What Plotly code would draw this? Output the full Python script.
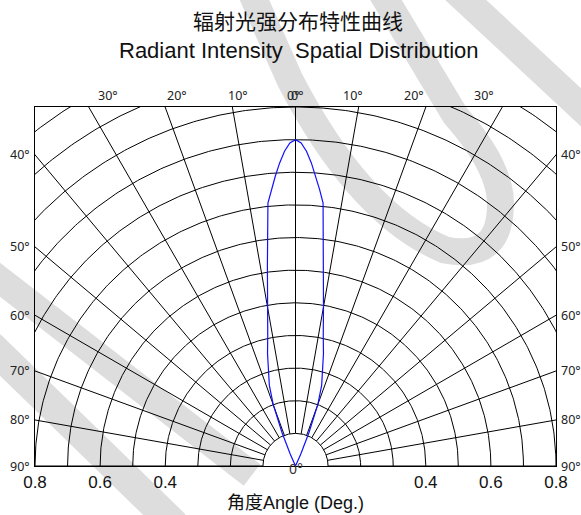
import numpy as np
import plotly.graph_objects as go

# ---------------- data ----------------
title_cn = "辐射光强分布特性曲线"
title_en = "Radiant Intensity\u00a0 Spatial Distribution"
x_title = "角度Angle (Deg.)"

# relative radiant intensity vs. angle (degrees from axis)
angle_deg = [-25, -24, -22, -20, -18, -16, -14, -12, -10, -8, -6, -5, -4, -3, -2, -1,
             0, 1, 2, 3, 4, 5, 6, 8, 10, 12, 14, 16, 18, 20, 22, 24, 25]
intensity = [0.0, 0.04, 0.11, 0.20, 0.26, 0.30, 0.355, 0.41, 0.495, 0.62, 0.81, 0.85, 0.89, 0.93, 0.965, 0.99,
             1.0, 0.99, 0.965, 0.93, 0.89, 0.85, 0.81, 0.62, 0.495, 0.41, 0.355, 0.30, 0.26, 0.20, 0.11, 0.04, 0.0]

grid_radii = [0.1, 0.2, 0.3, 0.4, 0.5, 0.6, 0.7, 0.8, 0.9, 1.0, 1.1, 1.2, 1.3, 1.4]
spoke_deg = [-90, -80, -70, -60, -50, -40, -30, -20, -10, 0, 10, 20, 30, 40, 50, 60, 70, 80, 90]
top_label_deg = [-30, -20, -10, 0, 0, 10, 20, 30]
side_label_deg = [40, 50, 60, 70, 80, 90]
tick_vals = [-0.8, -0.6, -0.4, 0.4, 0.6, 0.8]
tick_text = ["0.8", "0.6", "0.4", "0.4", "0.6", "0.8"]

# ---------------- layout geometry ----------------
W, H = 581, 515
ML, MR, MT, MB = 35, 25, 107, 49
XR = [-0.8, 0.8]
YR = [0.0, 1.1]
HUB = 0.1      # radius where spokes start
SPOKE_END = 1.6

fig = go.Figure()

# polar grid: arcs
t = np.radians(np.linspace(-90, 90, 361))
ax, ay = [], []
for r in grid_radii:
    ax += list(r * np.sin(t)) + [None]
    ay += list(r * np.cos(t)) + [None]
fig.add_trace(go.Scatter(x=ax, y=ay, mode="lines", line=dict(color="black", width=1),
                         hoverinfo="skip", showlegend=False))

# polar grid: spokes
sx, sy = [], []
for d in spoke_deg:
    a = np.radians(d)
    sx += [HUB * np.sin(a), SPOKE_END * np.sin(a), None]
    sy += [HUB * np.cos(a), SPOKE_END * np.cos(a), None]
fig.add_trace(go.Scatter(x=sx, y=sy, mode="lines", line=dict(color="black", width=1),
                         hoverinfo="skip", showlegend=False))

# radiation pattern
th = np.radians(angle_deg)
rr = np.array(intensity)
fig.add_trace(go.Scatter(x=rr * np.sin(th), y=rr * np.cos(th), mode="lines",
                         line=dict(color="#1010ff", width=1.2),
                         hoverinfo="skip", showlegend=False))

ann = []
deg_font = dict(family="Noto Sans, DejaVu Sans, sans-serif", size=12.5, color="#222")
# top angle labels
for i, d in enumerate(top_label_deg):
    shift = 0
    if d == 0:
        shift = -2.5 if i == 3 else 1.5
    ann.append(dict(x=np.tan(np.radians(d)), y=1, xref="x", yref="paper", text=f"{abs(d)}°",
                    showarrow=False, xanchor="center", yanchor="middle", yshift=12, xshift=shift,
                    font=deg_font))
# side angle labels
for d in side_label_deg:
    yv = 0.8 / np.tan(np.radians(d))
    ann.append(dict(x=0, y=yv, xref="paper", yref="y", text=f"{d}°", showarrow=False,
                    xanchor="right", yanchor="middle", xshift=-3, font=deg_font))
    ann.append(dict(x=1, y=yv, xref="paper", yref="y", text=f"{d}°", showarrow=False,
                    xanchor="left", yanchor="middle", xshift=3, font=deg_font))
# centre label
ann.append(dict(x=0, y=0, xref="x", yref="y", text="0°", showarrow=False, xanchor="center",
                yanchor="middle", yshift=-2, font=dict(family="Noto Sans, sans-serif", size=14, color="#333")))
# titles
ann.append(dict(x=0.5, y=1, xref="paper", yref="paper", text=title_cn, showarrow=False,
                xanchor="center", yanchor="middle", yshift=87, xshift=2,
                font=dict(family="Noto Sans CJK SC", size=21, color="#111")))
ann.append(dict(x=0.5, y=1, xref="paper", yref="paper", text=title_en, showarrow=False,
                xanchor="center", yanchor="middle", yshift=57, xshift=3,
                font=dict(family="Liberation Sans, Arial, sans-serif", size=22, color="#111")))
ann.append(dict(x=0.5, y=0, xref="paper", yref="paper", text=x_title, showarrow=False,
                xanchor="center", yanchor="middle", yshift=-37, xshift=0,
                font=dict(family="Liberation Sans, Noto Sans CJK SC, sans-serif", size=18, color="#111")))

# light background watermark (decorative), given in pixel space
def P(X, Y):
    return f"{(X - ML) / (W - ML - MR):.4f},{(H - MB - Y) / (H - MT - MB):.4f}"

wm = "#dddddd"
shapes = [
    dict(type="path", xref="paper", yref="paper", layer="below",
         path=f"M{P(250,-10)} L{P(290,80)} Q{P(360,215)} {P(445,250)} Q{P(505,262)} {P(500,195)} Q{P(495,160)} {P(455,115)} L{P(380,-10)}",
         line=dict(color=wm, width=27)),
    dict(type="path", xref="paper", yref="paper", layer="below",
         path=f"M{P(455,-10)} L{P(600,125)}", line=dict(color=wm, width=28)),
    dict(type="path", xref="paper", yref="paper", layer="below",
         path=f"M{P(-10,272)} L{P(252,475)}", line=dict(color=wm, width=27)),
    dict(type="path", xref="paper", yref="paper", layer="below",
         path=f"M{P(-10,345)} L{P(175,525)}", line=dict(color=wm, width=30)),
]

fig.update_layout(
    width=W, height=H, autosize=False,
    margin=dict(l=ML, r=MR, t=MT, b=MB, pad=0),
    paper_bgcolor="white", plot_bgcolor="rgba(0,0,0,0)",
    annotations=ann, shapes=shapes, showlegend=False,
    xaxis=dict(range=XR, showgrid=False, zeroline=False, showline=True, mirror=True,
               linecolor="black", linewidth=1, ticks="", tickvals=tick_vals, ticktext=tick_text,
               tickfont=dict(family="Liberation Sans, Arial, sans-serif", size=17, color="#111"),
               ticklabelstandoff=1, fixedrange=True),
    yaxis=dict(range=YR, showgrid=False, zeroline=False, showline=True, mirror=True,
               linecolor="black", linewidth=1, showticklabels=False, ticks="", fixedrange=True),
)

fig.write_html("out.html", config={"displayModeBar": False},
               post_script="document.body.style.margin='0';document.body.style.overflow='hidden';")
